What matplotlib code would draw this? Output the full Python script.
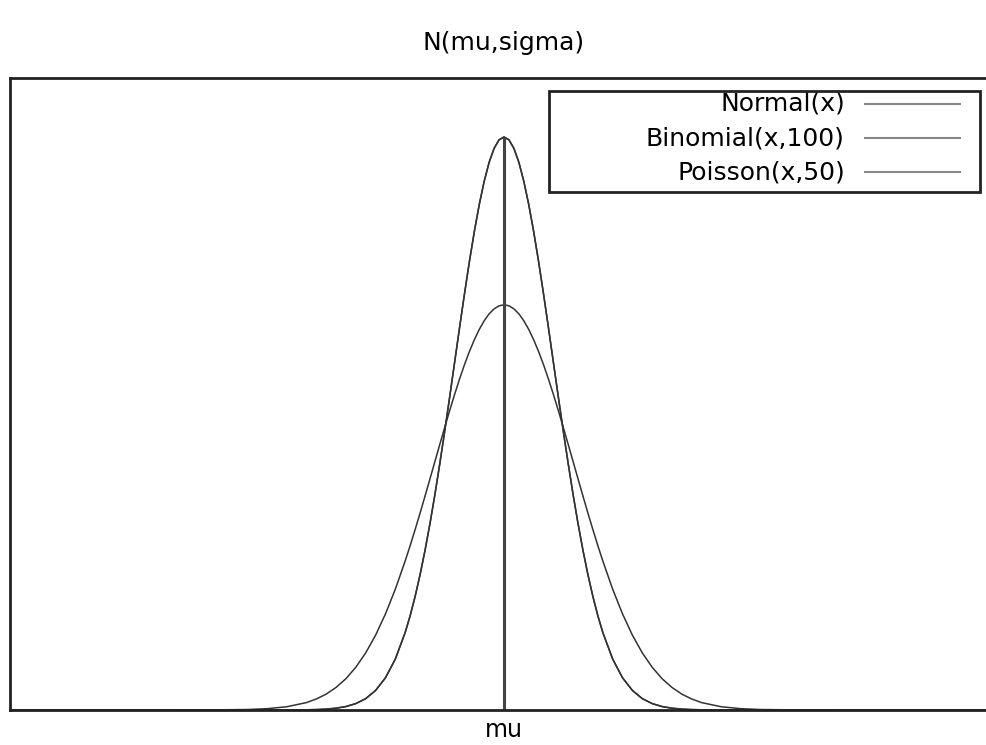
import matplotlib
matplotlib.use("Agg")
import matplotlib.pyplot as plt
from matplotlib.patches import Rectangle

# x positions (mu = 50)
x = [0, 10, 20, 24, 26, 28, 30, 31, 32, 33, 34, 35, 36, 37, 38, 39, 40,
     40.5, 41, 41.5, 42, 42.5, 43, 43.5, 44, 44.5, 45, 45.5, 46, 46.5, 47,
     47.5, 48, 48.5, 49, 49.5, 50, 50.5, 51, 51.5, 52, 52.5, 53, 53.5, 54,
     54.5, 55, 55.5, 56, 56.5, 57, 57.5, 58, 58.5, 59, 59.5, 60,
     61, 62, 63, 64, 65, 66, 67, 68, 69, 70, 72, 74, 76, 80, 90, 100]

normal_y = [0, 0, 0, 0, 0.000001, 0.000005, 0.000027, 0.000058, 0.00012,
            0.00025, 0.00048, 0.00089, 0.00158, 0.00272, 0.00448, 0.00709,
            0.0108, 0.01312, 0.01579, 0.01881, 0.02218, 0.0259, 0.02995,
            0.03428, 0.03884, 0.04357, 0.04839, 0.05322, 0.05794, 0.06245,
            0.06664, 0.07041, 0.07365, 0.07628, 0.07821, 0.07939, 0.07979,
            0.07939, 0.07821, 0.07628, 0.07365, 0.07041, 0.06664, 0.06245,
            0.05794, 0.05322, 0.04839, 0.04357, 0.03884, 0.03428, 0.02995,
            0.0259, 0.02218, 0.01881, 0.01579, 0.01312, 0.0108,
            0.00709, 0.00448, 0.00272, 0.00158, 0.00089, 0.00048, 0.00025,
            0.00012, 0.000058, 0.000027, 0.000005, 0.000001, 0, 0, 0, 0]
binom_y = [0, 0, 0, 0, 0.000001, 0.000005, 0.000027, 0.000058, 0.00012,
           0.00025, 0.00048, 0.00089, 0.00158, 0.00272, 0.00448, 0.00709,
           0.0108, 0.01312, 0.01579, 0.01881, 0.02218, 0.0259, 0.02995,
           0.03428, 0.03884, 0.04357, 0.04839, 0.05322, 0.05794, 0.06245,
           0.06664, 0.07041, 0.07365, 0.07628, 0.07821, 0.07939, 0.07979,
           0.07939, 0.07821, 0.07628, 0.07365, 0.07041, 0.06664, 0.06245,
           0.05794, 0.05322, 0.04839, 0.04357, 0.03884, 0.03428, 0.02995,
           0.0259, 0.02218, 0.01881, 0.01579, 0.01312, 0.0108,
           0.00709, 0.00448, 0.00272, 0.00158, 0.00089, 0.00048, 0.00025,
           0.00012, 0.000058, 0.000027, 0.000005, 0.000001, 0, 0, 0, 0]
poisson_y = [0, 0, 0.000007, 0.000065, 0.00018, 0.00045, 0.00103, 0.00153,
             0.00221, 0.00314, 0.00436, 0.00595, 0.00795, 0.01041, 0.01337,
             0.01682, 0.02076, 0.02288, 0.0251, 0.02739, 0.02975, 0.03215,
             0.03456, 0.03698, 0.03936, 0.04169, 0.04394, 0.04608, 0.04808,
             0.04992, 0.05156, 0.053, 0.05421, 0.05517, 0.05586, 0.05628,
             0.05642, 0.05628, 0.05586, 0.05517, 0.05421, 0.053, 0.05156,
             0.04992, 0.04808, 0.04608, 0.04394, 0.04169, 0.03936, 0.03698,
             0.03456, 0.03215, 0.02975, 0.02739, 0.0251, 0.02288, 0.02076,
             0.01682, 0.01337, 0.01041, 0.00795, 0.00595, 0.00436, 0.00314,
             0.00221, 0.00153, 0.00103, 0.00045, 0.00018, 0.000065,
             0.000007, 0, 0]

mu = 50
peak = 0.07979
labels = ["Normal(x)", "Binomial(x,100)", "Poisson(x,50)"]

plt.rcParams['font.family'] = ['DejaVu Sans']

fig = plt.figure(figsize=(9.87, 7.45), dpi=100)
ax = fig.add_axes([10 / 987, 35 / 745, 988 / 987, 632 / 745])

for ys in (normal_y, binom_y, poisson_y):
    ax.plot(x, ys, color="#333333", lw=1.1)
ax.vlines([mu], 0, peak, color="#444444", lw=2.2)

ax.set_xlim(0, 100)
ax.set_ylim(0, 0.088)
ax.set_xticks([mu])
ax.set_xticklabels(["mu"], fontsize=17)
ax.set_yticks([])
ax.tick_params(axis="x", length=0, pad=6)
for s in ax.spines.values():
    s.set_linewidth(2)
    s.set_color("#222222")

ax.set_title("N(mu,sigma)", fontsize=18, pad=20)

# gnuplot-style key: labels right-aligned, sample lines on the right
ax.add_patch(Rectangle((0.546, 0.820), 0.436, 0.159, transform=ax.transAxes,
                       fill=False, edgecolor="#222222", lw=2, zorder=5))
row_y = [0.959, 0.905, 0.851]
for lab, yy in zip(labels, row_y):
    ax.text(0.845, yy, lab, transform=ax.transAxes, ha="right", va="center",
            fontsize=18)
    ax.plot([0.865, 0.962], [yy, yy], transform=ax.transAxes,
            color="#888888", lw=1.5)

fig.savefig("out.png", dpi=100)
